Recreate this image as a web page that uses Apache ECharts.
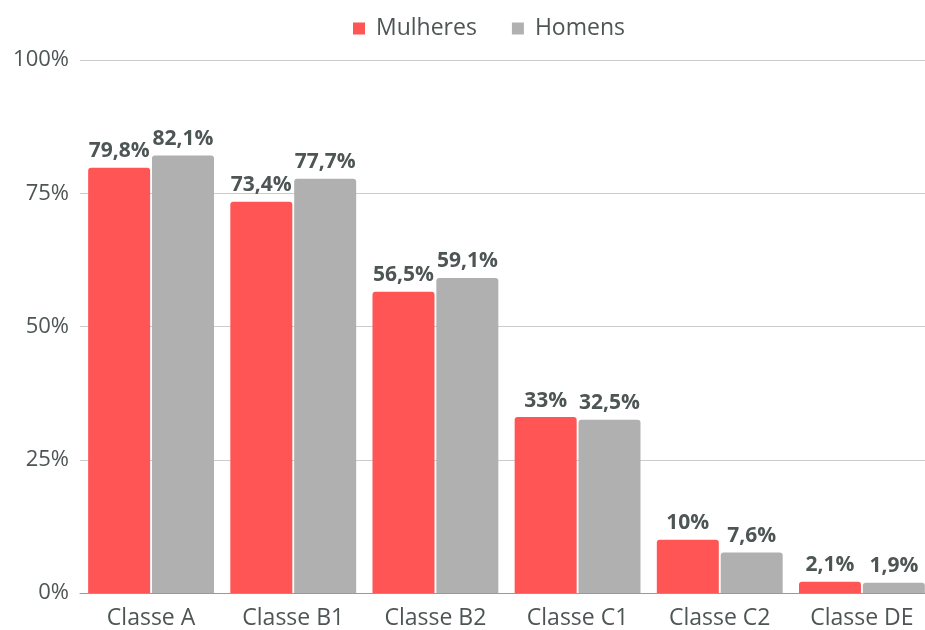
<!DOCTYPE html>
<html>
<head>
<meta charset="utf-8">
<script src="https://cdn.jsdelivr.net/npm/echarts@6/dist/echarts.min.js"></script>
<style>
  html, body { margin: 0; padding: 0; background: #fff; }
  #chart { width: 925px; height: 630px; }
</style>
</head>
<body>
<div id="chart"></div>
<script>
const categorias = ['Classe A', 'Classe B1', 'Classe B2', 'Classe C1', 'Classe C2', 'Classe DE'];
const mulheres = [79.8, 73.4, 56.5, 33, 10, 2.1];
const homens = [82.1, 77.7, 59.1, 32.5, 7.6, 1.9];

const fonte = '"Open Sans", sans-serif';
const corTexto = '#4d5555';

function rotulo(p) {
    return String(p.value).replace('.', ',') + '%';
}

let chart = echarts.init(document.getElementById('chart'));
let option = {
    animation: false,
    textStyle: { fontFamily: fonte },
    color: ['#ff5555', '#b0b0b0'],
    legend: {
        top: 12,
        left: 348,
        icon: 'rect',
        itemWidth: 12,
        itemHeight: 12,
        itemGap: 35,
        textStyle: { fontFamily: fonte, fontSize: 23, color: corTexto, padding: [0, 0, 0, 6] }
    },
    grid: {
        left: 80,
        width: 853,
        top: 60,
        bottom: 37,
        outerBoundsMode: 'none',
        containLabel: false
    },
    xAxis: {
        type: 'category',
        data: categorias,
        axisLine: { lineStyle: { color: '#999', width: 1 } },
        axisTick: { show: false },
        axisLabel: { fontFamily: fonte, fontSize: 23, color: corTexto, margin: 14 }
    },
    yAxis: {
        type: 'value',
        min: 0,
        max: 100,
        interval: 25,
        axisLine: { show: false },
        axisTick: { show: false },
        splitLine: { lineStyle: { color: '#cccccc' } },
        axisLabel: {
            fontFamily: fonte, fontSize: 22, color: corTexto, margin: 11,
            formatter: '{value}%'
        }
    },
    series: [
        {
            name: 'Mulheres',
            type: 'bar',
            data: mulheres,
            barWidth: 62,
            barGap: '3%',
            itemStyle: { borderRadius: [3, 3, 0, 0] },
            labelLayout: { moveOverlap: 'shiftX' },
            label: {
                show: true, position: 'top', distance: 6, padding: [0, 7],
                fontFamily: fonte, fontSize: 21, fontWeight: 'bold', color: corTexto,
                formatter: rotulo
            }
        },
        {
            name: 'Homens',
            type: 'bar',
            data: homens,
            barWidth: 62,
            barGap: '3%',
            itemStyle: { borderRadius: [3, 3, 0, 0] },
            labelLayout: { moveOverlap: 'shiftX' },
            label: {
                show: true, position: 'top', distance: 6, padding: [0, 7],
                fontFamily: fonte, fontSize: 21, fontWeight: 'bold', color: corTexto,
                formatter: rotulo
            }
        }
    ]
};
chart.setOption(option);
</script>
</body>
</html>
